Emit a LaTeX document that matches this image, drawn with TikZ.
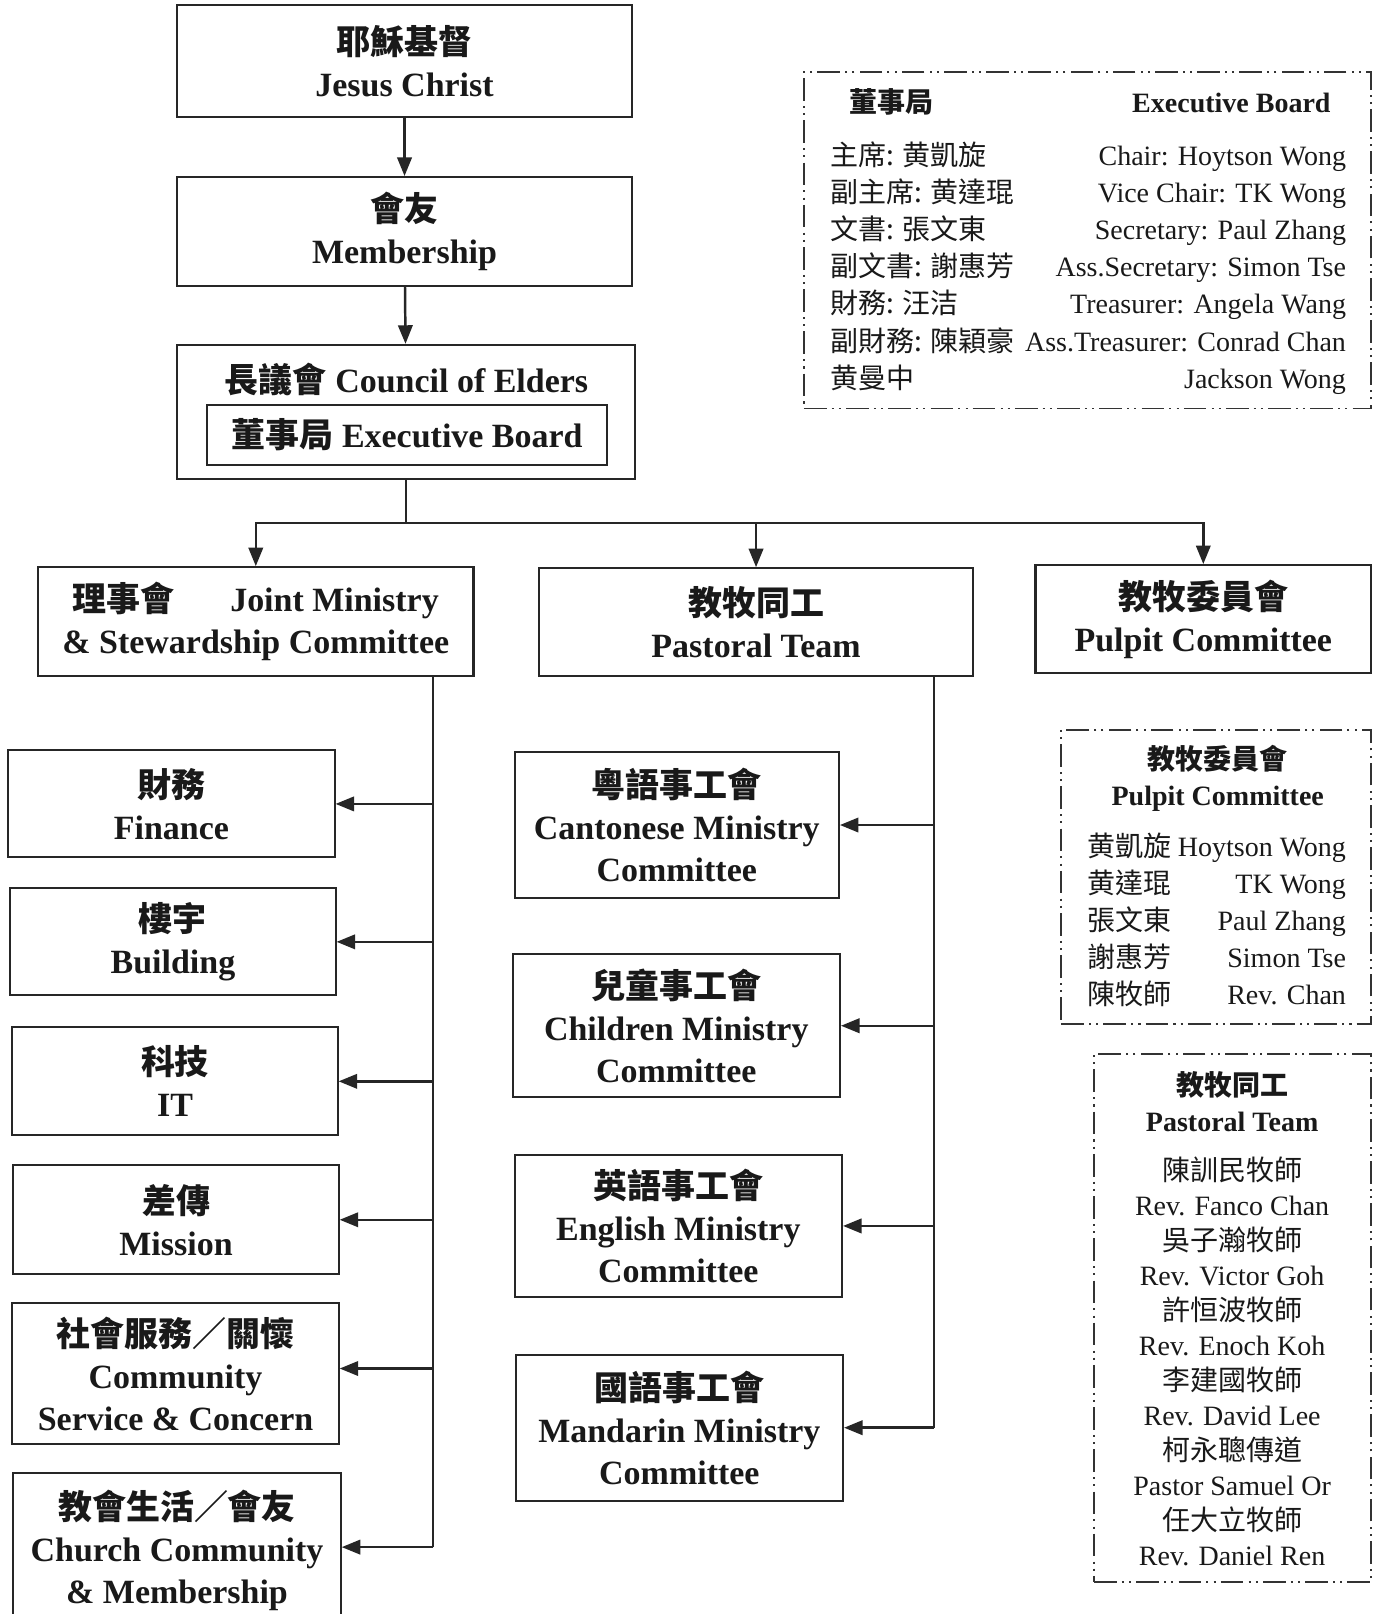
\documentclass[tikz,border=0pt]{standalone}
\usepackage{fontspec}
\setmainfont{Liberation Serif}
\newfontfamily\cjk{Noto Sans CJK TC}
\usetikzlibrary{arrows.meta,calc}
\newcommand{\zhc}[1]{{\cjk #1}}
\tikzset{
  ln/.style={draw=black!85, line width=1pt},
  box/.style={ln, rectangle, inner sep=0pt, align=center,
    font=\bfseries\fontsize{16.5}{20.5}\selectfont, text=black!90},
  arr/.style={draw=black!85, line width=1.2pt, -{Triangle[length=9pt,width=7pt]}},
  dbox/.style={draw=black!80, line width=0.75pt,
    dash pattern=on 11pt off 2.5pt on 1pt off 2.5pt on 1pt off 2.5pt, inner sep=0pt},
  lt/.style={inner sep=0pt, font=\fontsize{13.6}{16}\selectfont, text=black!90},
  ltb/.style={lt, font=\bfseries\fontsize{13.6}{16}\selectfont},
}
\begin{document}
\begin{tikzpicture}[x=0.5pt,y=-0.5pt]
\fill[white] (0,0) rectangle (1336,1568);
\useasboundingbox (0,0) rectangle (1336,1568);

% ---------- main spine ----------
\node[box, minimum width=221pt, minimum height=54.5pt] (jesus) at (393,59.5)
  {\zhc{耶穌基督}\\Jesus Christ};
\node[box, minimum width=221pt, minimum height=53pt] (member) at (393,225)
  {\zhc{會友}\\Membership};
\node[box, minimum width=222.5pt, minimum height=65pt] (council) at (394.5,400) {};
\node[inner sep=0pt, font=\bfseries\fontsize{16.5}{20.5}\selectfont, text=black!90, anchor=base]
  (counciltxt) at (395,381) {\zhc{長議會} Council of Elders};
\node[box, minimum width=194.5pt, minimum height=29.5pt] (eb) at (395.5,422.5)
  {\zhc{董事局} Executive Board};

\draw[arr] (jesus) -- (member);
\draw[arr] (member) -- (council);

% ---------- second level ----------
\node[box, minimum width=211.5pt, minimum height=53pt] (joint) at (248.5,604)
  {\zhc{理事會}\hspace{27pt}Joint Ministry\\\& Stewardship Committee};
\node[box, minimum width=210.5pt, minimum height=52.5pt] (pastoral) at (734.5,604.5)
  {\zhc{教牧同工}\\Pastoral Team};
\node[box, minimum width=163pt, minimum height=52.5pt] (pulpit) at (1169,601.5)
  {\zhc{教牧委員會}\\Pulpit Committee};

\coordinate (split) at ([yshift=-21pt]council.south);
\draw[ln] (council.south) -- (split);
\draw[arr] (split) -| (joint);
\draw[arr] (split) -| (pastoral);
\draw[arr] (split) -| (pulpit);

% ---------- left column ----------
\node[box, minimum width=158.5pt, minimum height=52pt] (finance) at (166.5,781)
  {\zhc{財務}\\Finance};
\node[box, minimum width=158pt, minimum height=52pt] (building) at (168,915)
  {\zhc{樓宇}\\Building};
\node[box, minimum width=158pt, minimum height=52.5pt] (it) at (170,1050.5)
  {\zhc{科技}\\IT};
\node[box, minimum width=158pt, minimum height=53pt] (mission) at (171,1185)
  {\zhc{差傳}\\Mission};
\node[box, minimum width=158.5pt, minimum height=68.5pt] (community) at (170.5,1334.5)
  {\zhc{社會服務／關懷}\\Community\\Service \& Concern};
\node[box, minimum width=159pt, minimum height=75pt] (church) at (172,1506)
  {\zhc{教會生活／會友}\\Church Community\\\& Membership};

\coordinate (jx) at (421,0);
\coordinate (ce) at ([yshift=1.5pt]church.east);
\coordinate (cme) at ([yshift=2.5pt]community.east);
\draw[ln] (joint.south -| jx) -- (ce -| jx);
\foreach \n in {finance.east,building.east,it.east,mission.east,cme,ce}
  \draw[arr] (\n -| jx) -- (\n);

% ---------- middle column ----------
\node[box, minimum width=157.5pt, minimum height=70.5pt] (cantonese) at (657.5,801.5)
  {\zhc{粵語事工會}\\Cantonese Ministry\\Committee};
\node[box, minimum width=159pt, minimum height=69.5pt] (children) at (657,996.5)
  {\zhc{兒童事工會}\\Children Ministry\\Committee};
\node[box, minimum width=159pt, minimum height=69pt] (english) at (659,1191)
  {\zhc{英語事工會}\\English Ministry\\Committee};
\node[box, minimum width=159pt, minimum height=71pt] (mandarin) at (660,1387)
  {\zhc{國語事工會}\\Mandarin Ministry\\Committee};

\coordinate (px) at (907,0);
\draw[ln] (pastoral.south -| px) -- (mandarin.east -| px);
\foreach \n in {cantonese,children,english,mandarin}
  \draw[arr] (\n.east -| px) -- (\n.east);

% ---------- Executive Board list ----------
\node[dbox, minimum width=275.5pt, minimum height=163.5pt] (execlist) at (1056.5,233.5) {};
\node[ltb, anchor=base west] (exzh) at (825,109) {\zhc{董事局}};
\node[ltb, anchor=base east] (exen) at (1293,109) {Executive Board};
\node[lt, anchor=base west] (ex1a) at (806,161) {\zhc{主席: 黄凱旋}};
\node[lt, anchor=base east] (ex1b) at (1308,161) {Chair: Hoytson Wong};
\node[lt, anchor=base west] (ex2a) at (806,197) {\zhc{副主席: 黄達琨}};
\node[lt, anchor=base east] (ex2b) at (1308,197) {Vice Chair: TK Wong};
\node[lt, anchor=base west] (ex3a) at (806,233) {\zhc{文書: 張文東}};
\node[lt, anchor=base east] (ex3b) at (1308,233) {Secretary: Paul Zhang};
\node[lt, anchor=base west] (ex4a) at (806,269) {\zhc{副文書: 謝惠芳}};
\node[lt, anchor=base east] (ex4b) at (1308,269) {Ass.Secretary: Simon Tse};
\node[lt, anchor=base west] (ex5a) at (806,305) {\zhc{財務: 汪洁}};
\node[lt, anchor=base east] (ex5b) at (1308,305) {Treasurer: Angela Wang};
\node[lt, anchor=base west] (ex6a) at (806,341) {\zhc{副財務: 陳穎豪}};
\node[lt, anchor=base east] (ex6b) at (1308,341) {Ass.Treasurer: Conrad Chan};
\node[lt, anchor=base west] (ex7a) at (806,377) {\zhc{黄曼中}};
\node[lt, anchor=base east] (ex7b) at (1308,377) {Jackson Wong};

% ---------- Pulpit Committee list ----------
\node[dbox, minimum width=150.5pt, minimum height=143pt] (pulpitlist) at (1181.5,852) {};
\node[ltb, anchor=base] (puzh) at (1183,748) {\zhc{教牧委員會}};
\node[ltb, anchor=base] (puen) at (1183,783) {Pulpit Committee};
\node[lt, anchor=base west] (pu1a) at (1056,832) {\zhc{黄凱旋}};
\node[lt, anchor=base east] (pu1b) at (1308,832) {Hoytson Wong};
\node[lt, anchor=base west] (pu2a) at (1056,868) {\zhc{黄達琨}};
\node[lt, anchor=base east] (pu2b) at (1308,868) {TK Wong};
\node[lt, anchor=base west] (pu3a) at (1056,904) {\zhc{張文東}};
\node[lt, anchor=base east] (pu3b) at (1308,904) {Paul Zhang};
\node[lt, anchor=base west] (pu4a) at (1056,940) {\zhc{謝惠芳}};
\node[lt, anchor=base east] (pu4b) at (1308,940) {Simon Tse};
\node[lt, anchor=base west] (pu5a) at (1056,976) {\zhc{陳牧師}};
\node[lt, anchor=base east] (pu5b) at (1308,976) {Rev. Chan};

% ---------- Pastoral Team list ----------
\node[dbox, minimum width=134.5pt, minimum height=256.5pt] (pastorallist) at (1197.5,1280.5) {};
\node[ltb, anchor=base] (ptzh) at (1197,1064) {\zhc{教牧同工}};
\node[ltb, anchor=base] (pten) at (1197,1099) {Pastoral Team};
\node[lt, anchor=base] (pt1) at (1197,1147) {\zhc{陳訓民牧師}};
\node[lt, anchor=base] (pt2) at (1197,1181) {Rev. Fanco Chan};
\node[lt, anchor=base] (pt3) at (1197,1215) {\zhc{吳子瀚牧師}};
\node[lt, anchor=base] (pt4) at (1197,1249) {Rev. Victor Goh};
\node[lt, anchor=base] (pt5) at (1197,1283) {\zhc{許恒波牧師}};
\node[lt, anchor=base] (pt6) at (1197,1317) {Rev. Enoch Koh};
\node[lt, anchor=base] (pt7) at (1197,1351) {\zhc{李建國牧師}};
\node[lt, anchor=base] (pt8) at (1197,1385) {Rev. David Lee};
\node[lt, anchor=base] (pt9) at (1197,1419) {\zhc{柯永聰傳道}};
\node[lt, anchor=base] (pt10) at (1197,1453) {Pastor Samuel Or};
\node[lt, anchor=base] (pt11) at (1197,1487) {\zhc{任大立牧師}};
\node[lt, anchor=base] (pt12) at (1197,1521) {Rev. Daniel Ren};
\end{tikzpicture}
\end{document}
